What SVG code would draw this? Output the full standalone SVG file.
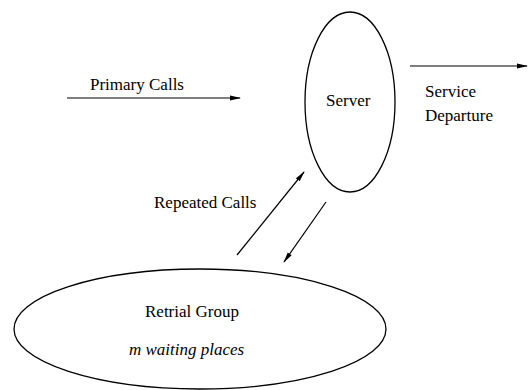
<svg xmlns="http://www.w3.org/2000/svg" width="529" height="390" viewBox="0 0 529 390">
<style>
text{font-family:"Liberation Serif","DejaVu Serif","Times New Roman",serif;font-size:17px;fill:#000}
.it{font-style:italic}
.node{fill:none;stroke:#000;stroke-width:1.3}
.edge{fill:none;stroke:#000;stroke-width:1.2}
</style>
<defs>
<marker id="ah" markerWidth="11" markerHeight="6" refX="10" refY="3" orient="auto" markerUnits="userSpaceOnUse">
<path d="M0,0.6 L11,3 L0,5.4 Z" fill="#000"/>
</marker>
</defs>
<rect width="529" height="390" fill="#fff"/>
<g id="server">
<ellipse class="node" cx="350" cy="102" rx="45" ry="90"/>
<text x="326" y="106">Server</text>
</g>
<g id="retrial-group">
<ellipse class="node" cx="200" cy="329" rx="186" ry="60"/>
<text x="145" y="317">Retrial Group</text>
<text class="it" x="129" y="355">m waiting places</text>
</g>
<g id="connectors">
<line class="edge" x1="67" y1="98" x2="240" y2="98" marker-end="url(#ah)"/>
<line class="edge" x1="410" y1="66" x2="527" y2="66" marker-end="url(#ah)"/>
<line class="edge" x1="237" y1="255" x2="304" y2="172" marker-end="url(#ah)"/>
<line class="edge" x1="326" y1="202" x2="284" y2="262" marker-end="url(#ah)"/>
</g>
<g id="labels">
<text x="90" y="90">Primary Calls</text>
<text x="425" y="97">Service</text>
<text x="425" y="121">Departure</text>
<text x="154" y="208">Repeated Calls</text>
</g>
</svg>
